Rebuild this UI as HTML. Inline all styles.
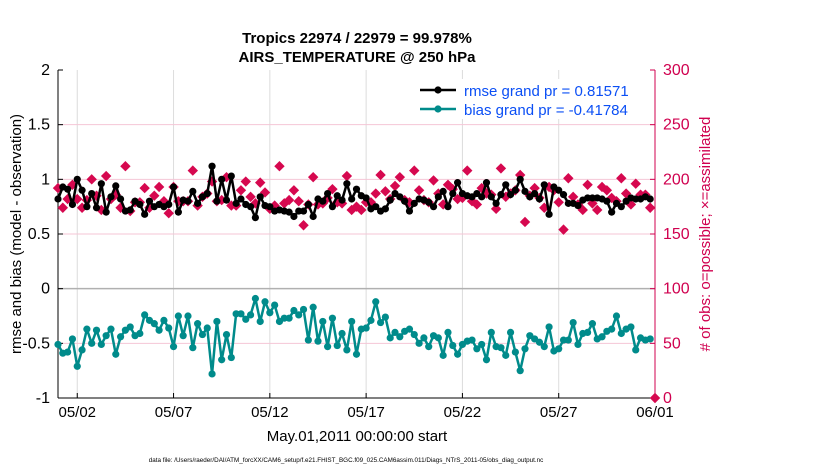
<!DOCTYPE html>
<html><head><meta charset="utf-8"><style>
html,body{margin:0;padding:0;background:#fff;}
svg{display:block;font-family:"Liberation Sans",sans-serif;}
</style></head><body>
<svg id="chart" width="830" height="470" viewBox="0 0 830 470" xmlns="http://www.w3.org/2000/svg">
<text x="357" y="43" text-anchor="middle" font-size="15" font-weight="bold">Tropics 22974 / 22979 = 99.978%</text>
<text x="357" y="62" text-anchor="middle" font-size="15" font-weight="bold">AIRS_TEMPERATURE @ 250 hPa</text>
<g id="grid"></g>
<g id="axes"></g>
<g id="series"></g>
<text transform="translate(21,234) rotate(-90)" text-anchor="middle" font-size="15">rmse and bias (model - observation)</text>
<text transform="translate(710,234) rotate(-90)" text-anchor="middle" font-size="15" fill="#d0004f"># of obs: o=possible; ×=assimilated</text>
<text x="357" y="441" text-anchor="middle" font-size="15">May.01,2011 00:00:00 start</text>
<text x="346" y="462" text-anchor="middle" font-size="6.3">data file: /Users/raeder/DAI/ATM_forcXX/CAM6_setup/f.e21.FHIST_BGC.f09_025.CAM6assim.011/Diags_NTrS_2011-05/obs_diag_output.nc</text>
<g>
<rect x="414" y="79" width="232" height="40" fill="#fff"/>
<line x1="420" y1="90" x2="456" y2="90" stroke="#000" stroke-width="2.5"/>
<circle cx="438" cy="90" r="3.6" fill="#000"/>
<text x="464" y="96" font-size="15" fill="#0b4ff5">rmse grand pr = 0.81571</text>
<line x1="420" y1="109" x2="456" y2="109" stroke="#008b8b" stroke-width="2.5"/>
<circle cx="438" cy="109" r="3.6" fill="#008b8b"/>
<text x="464" y="115" font-size="15" fill="#0b4ff5">bias grand pr = -0.41784</text>
</g>
</svg>
<script>
const rmse=[0.82,0.93,0.91,0.77,1.00,0.90,0.75,0.87,0.74,0.96,0.70,0.84,0.94,0.82,0.71,0.72,0.80,0.77,0.68,0.80,0.75,0.77,0.75,0.77,0.93,0.70,0.81,0.80,0.89,0.78,0.84,0.87,1.12,0.80,1.00,0.81,1.03,0.78,0.82,0.77,0.75,0.65,0.84,0.76,0.75,0.71,0.72,0.71,0.70,0.66,0.71,0.71,0.77,0.66,0.82,0.80,0.87,0.75,0.85,0.81,0.96,0.82,0.91,
0.85,0.83,0.73,0.75,0.71,0.73,0.81,0.87,0.84,0.80,0.71,0.78,0.82,0.81,0.79,0.75,0.84,0.89,0.75,0.87,0.97,0.87,0.85,0.84,0.87,0.84,0.97,0.84,0.78,0.86,0.95,0.86,0.90,1.00,0.89,0.84,0.87,0.82,0.95,0.68,0.93,0.90,0.86,0.78,0.78,0.76,0.81,0.83,0.83,0.83,0.82,0.80,0.70,0.78,0.75,0.80,0.83,0.82,0.82,0.84,0.82];
const bias=[-0.51,-0.59,-0.58,-0.46,-0.71,-0.56,-0.37,-0.50,-0.38,-0.51,-0.43,-0.37,-0.60,-0.44,-0.38,-0.35,-0.43,-0.41,-0.24,-0.29,-0.32,-0.38,-0.29,-0.36,-0.53,-0.25,-0.43,-0.25,-0.54,-0.32,-0.42,-0.36,-0.78,-0.30,-0.65,-0.42,-0.63,-0.23,-0.23,-0.28,-0.24,-0.09,-0.30,-0.12,-0.22,-0.15,-0.30,-0.27,-0.27,-0.20,-0.24,-0.19,-0.47,-0.17,-0.48,-0.30,-0.53,-0.27,-0.52,-0.41,-0.56,-0.30,-0.60,
-0.37,-0.36,-0.29,-0.12,-0.31,-0.26,-0.45,-0.40,-0.44,-0.39,-0.37,-0.42,-0.50,-0.45,-0.53,-0.43,-0.45,-0.61,-0.40,-0.52,-0.60,-0.51,-0.48,-0.47,-0.55,-0.51,-0.65,-0.40,-0.53,-0.54,-0.61,-0.40,-0.58,-0.75,-0.55,-0.43,-0.46,-0.49,-0.53,-0.35,-0.57,-0.55,-0.47,-0.47,-0.31,-0.51,-0.41,-0.40,-0.32,-0.46,-0.44,-0.39,-0.37,-0.25,-0.41,-0.37,-0.35,-0.56,-0.45,-0.47,-0.46];
const nobs=[192,174,182,195,182,174,181,200,185,172,203,182,186,174,212,171,179,179,192,174,185,193,180,169,193,180,180,180,208,176,184,187,198,180,181,202,176,176,190,198,184,178,197,188,173,176,212,178,181,190,180,158,177,202,177,178,183,191,179,178,203,172,175,
172,179,179,187,204,189,182,194,202,181,179,208,190,181,179,199,187,177,195,191,182,183,208,180,177,192,187,186,173,210,184,187,190,204,161,185,192,183,174,193,190,179,154,201,184,177,172,195,178,172,193,190,183,180,201,187,177,196,186,186,174,0];
const xTickLabels=["05/02","05/07","05/12","05/17","05/22","05/27","06/01"];
const xTickDays=[1,6,11,16,21,26,31];
const yLeftTicks=["-1","-0.5","0","0.5","1","1.5","2"];
const yLeftVals=[-1,-0.5,0,0.5,1,1.5,2];
const yRightVals=[0,50,100,150,200,250,300];

const L=58,R=655,T=70,B=398,NS="http://www.w3.org/2000/svg";
const xS=d=>L+(R-L)*d/31;
const yL=v=>B-(B-T)*(v+1)/3;
const yR=v=>B-(B-T)*v/300;
const gG=document.getElementById('grid'),gA=document.getElementById('axes'),gS=document.getElementById('series');
function mk(tag,attrs,parent){const e=document.createElementNS(NS,tag);for(const k in attrs)e.setAttribute(k,attrs[k]);parent.appendChild(e);return e;}

xTickDays.forEach((d,i)=>{
  const g=mk('line',{x1:xS(d),x2:xS(d),y1:T,y2:B,stroke:'#dcdcdc','stroke-width':1},gG);
  
  
  const t=mk('line',{x1:xS(d),x2:xS(d),y1:B,y2:B-5,stroke:'#000'},gA);
  
  
  const tx=mk('text',{x:xS(d),y:B+19,'text-anchor':'middle','font-size':15},gA);
  tx.textContent=xTickLabels[i];
  
  
});
yRightVals.forEach(v=>{
  if(v===0||v===300)return;
  const g=mk('line',{x1:L,x2:R,y1:yR(v),y2:yR(v),stroke:v===100?'#b0b0b0':'#f4c6d6','stroke-width':v===100?1.5:1},gG);
  
  
});
yLeftVals.forEach((v,i)=>{
  const t=mk('line',{x1:L,x2:L+5,y1:yL(v),y2:yL(v),stroke:'#000'},gA);
  
  
  const tx=mk('text',{x:L-8,y:yL(v)+5,'text-anchor':'end','font-size':16},gA);
  tx.textContent=yLeftTicks[i];
  
  
});
yRightVals.forEach(v=>{
  const t=mk('line',{x1:R,x2:R-5,y1:yR(v),y2:yR(v),stroke:'#d0004f'},gA);
  
  
  const tx=mk('text',{x:R+8,y:yR(v)+5,'font-size':16,fill:'#d0004f'},gA);
  tx.textContent=String(v);
  
  
});
const ax1=mk('line',{x1:L,x2:L,y1:T,y2:B,stroke:'#000'},gA);


const ax2=mk('line',{x1:L,x2:R,y1:B,y2:B,stroke:'#000'},gA);


const ax3=mk('line',{x1:R,x2:R,y1:T,y2:B,stroke:'#d0004f'},gA);



nobs.forEach((v,i)=>{
  const x=xS(i*0.25),y=yR(v),s=5.2;
  const p=mk('polygon',{points:`${x},${y-s} ${x+s},${y} ${x},${y+s} ${x-s},${y}`,fill:'#d6084f'},gS);
  
  
});
function line(arr,color,name){
  const pts=arr.map((v,i)=>xS(i*0.25)+','+yL(v)).join(' ');
  const pl=mk('polyline',{points:pts,fill:'none',stroke:color,'stroke-width':2.5,'stroke-linejoin':'round'},gS);
  
  
  arr.forEach((v,i)=>{
    const c=mk('circle',{cx:xS(i*0.25),cy:yL(v),r:3.6,fill:color},gS);
    
    
  });
}
line(rmse,'#000','rmse');
line(bias,'#008b8b','bias');
</script>
</body></html>
